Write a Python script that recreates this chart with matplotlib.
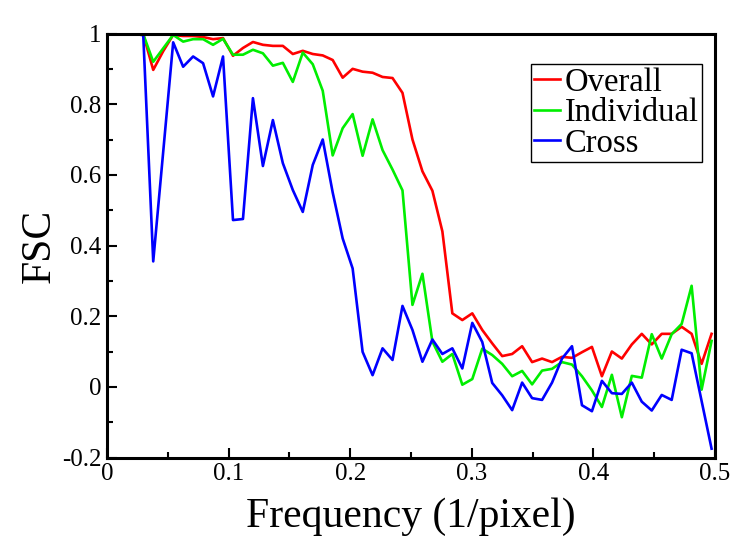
import matplotlib
matplotlib.use("Agg")
import matplotlib.pyplot as plt
from matplotlib.ticker import MultipleLocator

# spatial frequency (1/pixel), one entry per shell
freq = [0.0216, 0.0298, 0.0380, 0.0462, 0.0544, 0.0626, 0.0708, 0.0790, 0.0872, 0.0954,
        0.1036, 0.1118, 0.1200, 0.1282, 0.1364, 0.1446, 0.1528, 0.1610, 0.1692, 0.1774,
        0.1856, 0.1938, 0.2020, 0.2102, 0.2184, 0.2266, 0.2348, 0.2430, 0.2512, 0.2594,
        0.2676, 0.2758, 0.2840, 0.2922, 0.3004, 0.3086, 0.3168, 0.3250, 0.3332, 0.3414,
        0.3496, 0.3578, 0.3660, 0.3742, 0.3824, 0.3906, 0.3988, 0.4070, 0.4152, 0.4234,
        0.4316, 0.4398, 0.4480, 0.4562, 0.4644, 0.4726, 0.4808, 0.4890, 0.4972]

overall = [1.0, 0.998, 0.897, 0.95, 0.996, 0.993, 0.993, 0.99, 0.984, 0.987,
           0.937, 0.959, 0.976, 0.968, 0.965, 0.965, 0.942, 0.951, 0.942, 0.938,
           0.925, 0.875, 0.90, 0.892, 0.889, 0.877, 0.874, 0.832, 0.70, 0.61,
           0.555, 0.44, 0.208, 0.189, 0.208, 0.161, 0.123, 0.087, 0.093, 0.115,
           0.07, 0.08, 0.07, 0.085, 0.082, 0.098, 0.113, 0.03, 0.10, 0.08,
           0.12, 0.15, 0.12, 0.15, 0.15, 0.17, 0.15, 0.065, 0.15]

individual = [1.0, 0.998, 0.92, 0.958, 0.996, 0.977, 0.984, 0.984, 0.968, 0.985,
              0.94, 0.94, 0.954, 0.944, 0.909, 0.917, 0.863, 0.946, 0.913, 0.838,
              0.655, 0.732, 0.772, 0.654, 0.757, 0.67, 0.615, 0.556, 0.232, 0.32,
              0.128, 0.071, 0.093, 0.006, 0.022, 0.108, 0.09, 0.065, 0.03, 0.045,
              0.007, 0.046, 0.051, 0.07, 0.063, 0.03, -0.01, -0.057, 0.034, -0.086,
              0.031, 0.026, 0.149, 0.08, 0.149, 0.178, 0.286, -0.008, 0.13]

cross = [1.0, 0.995, 0.355, 0.665, 0.975, 0.906, 0.935, 0.916, 0.822, 0.935,
         0.472, 0.475, 0.817, 0.625, 0.755, 0.633, 0.557, 0.495, 0.628, 0.70,
         0.55, 0.42, 0.335, 0.099, 0.033, 0.109, 0.076, 0.229, 0.161, 0.071,
         0.134, 0.093, 0.109, 0.052, 0.181, 0.127, 0.011, -0.024, -0.066, 0.012,
         -0.032, -0.037, 0.012, 0.08, 0.115, -0.052, -0.069, 0.017, -0.018, -0.02,
         0.012, -0.042, -0.067, -0.023, -0.037, 0.105, 0.095, -0.04, -0.175]

xticks = [0, 0.1, 0.2, 0.3, 0.4, 0.5]
xtick_labels = ["0", "0.1", "0.2", "0.3", "0.4", "0.5"]
yticks = [-0.2, 0, 0.2, 0.4, 0.6, 0.8, 1.0]
ytick_labels = ["-0.2", "0", "0.2", "0.4", "0.6", "0.8", "1"]

plt.rcParams["font.family"] = ["Liberation Serif", "DejaVu Serif"]

fig = plt.figure(figsize=(7.5, 5.44), dpi=100)
ax = fig.add_axes([0.1427, 0.159, 0.8106, 0.7794])

ax.plot(freq, overall, color="#ff0000", lw=1.9, label="Overall")
ax.plot(freq, individual, color="#00ee00", lw=1.9, label="Individual")
ax.plot(freq, cross, color="#0000ff", lw=1.9, label="Cross")

ax.set_xlim(0, 0.5)
ax.set_ylim(-0.2, 1.0)
ax.set_xticks(xticks)
ax.set_xticklabels(xtick_labels)
ax.set_yticks(yticks)
ax.set_yticklabels(ytick_labels)
ax.xaxis.set_minor_locator(MultipleLocator(0.05))
ax.yaxis.set_minor_locator(MultipleLocator(0.1))
ax.tick_params(which="both", direction="in", top=False, right=False,
               labelsize=18, width=1.5)
ax.tick_params(which="major", length=7, pad=4)
ax.tick_params(which="minor", length=4)
for s in ax.spines.values():
    s.set_linewidth(2.2)

ax.set_xlabel("Frequency (1/pixel)", fontsize=30, labelpad=9)
ax.set_ylabel("FSC", fontsize=30, labelpad=2)

leg = ax.legend(loc="upper right", bbox_to_anchor=(0.979, 0.928),
                borderaxespad=0, fontsize=23.5, fancybox=False,
                edgecolor="black", framealpha=1, handlelength=0.8,
                handletextpad=0.15, labelspacing=0.0, borderpad=0.1)
leg.get_frame().set_linewidth(1.0)

fig.savefig("out.png", dpi=100)
